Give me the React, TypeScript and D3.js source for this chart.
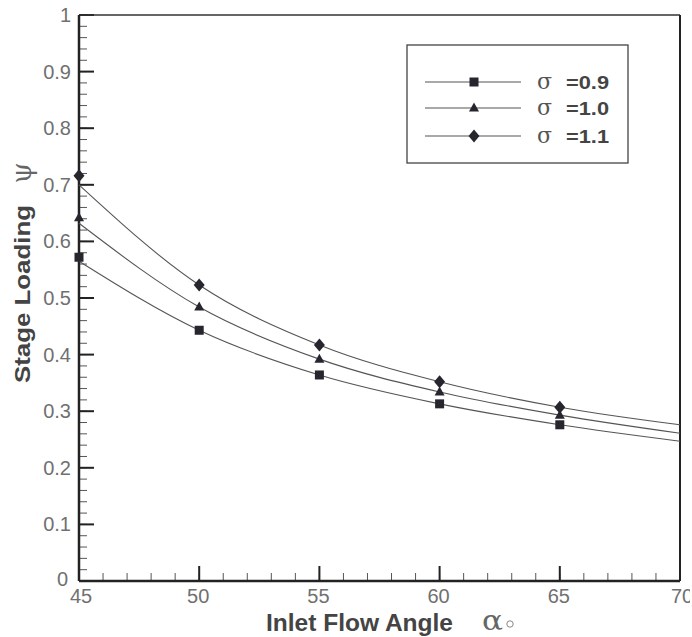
import React from "react";
import * as d3 from "d3";

const angles = [45, 50, 55, 60, 65];
const curveAngles = [45, 50, 55, 60, 65, 70];
const sigma09 = [0.572, 0.443, 0.364, 0.313, 0.276];
const sigma10 = [0.642, 0.484, 0.392, 0.334, 0.293];
const sigma11 = [0.716, 0.523, 0.417, 0.352, 0.307];
const sigma09Curve = [0.565, 0.443, 0.364, 0.313, 0.276, 0.247];
const sigma10Curve = [0.632, 0.484, 0.392, 0.334, 0.293, 0.261];
const sigma11Curve = [0.7, 0.523, 0.417, 0.352, 0.307, 0.276];
const seriesLabels = ["=0.9", "=1.0", "=1.1"];
const xTicks = [45, 50, 55, 60, 65, 70];
const yTicks = [0, 0.1, 0.2, 0.3, 0.4, 0.5, 0.6, 0.7, 0.8, 0.9, 1];

const W = 692;
const H = 637;
const L = 79, R = 680, T = 15, B = 581;

function Marker({ kind, x, y }: { kind: string; x: number; y: number }) {
  const c = "#26262e";
  if (kind === "square") return <rect x={x - 4.5} y={y - 4.5} width={9} height={9} fill={c} />;
  if (kind === "triangle")
    return <path d={`M${x},${y - 5.5}L${x + 5},${y + 3.5}L${x - 5},${y + 3.5}Z`} fill={c} />;
  return <path d={`M${x},${y - 6.5}L${x + 5.5},${y}L${x},${y + 6.5}L${x - 5.5},${y}Z`} fill={c} />;
}

export default function App() {
  const x = d3.scaleLinear().domain([45, 70]).range([L, R]);
  const y = d3.scaleLinear().domain([0, 1]).range([B, T]);
  const line = d3
    .line<number>()
    .x((_, i) => x(curveAngles[i]))
    .y((d) => y(d))
    .curve(d3.curveMonotoneX);
  const series = [
    { kind: "square", pts: sigma09, curve: sigma09Curve },
    { kind: "triangle", pts: sigma10, curve: sigma10Curve },
    { kind: "diamond", pts: sigma11, curve: sigma11Curve },
  ];
  const xMinor = d3.range(45, 70.01, 1);
  const yMinor = d3.range(0, 1.001, 0.02);
  const tickFont = "Liberation Sans, Arial, sans-serif";
  const legendRows = [82, 108, 136];
  return (
    <svg width={W} height={H} style={{ position: "absolute", left: 0, top: 0, background: "#fff" }}>
      <defs>
        <clipPath id="pageClip">
          <rect x={0} y={0} width={690} height={H} />
        </clipPath>
      </defs>
      <rect width={W} height={H} fill="#fff" />
      {/* minor ticks */}
      {yMinor.map((v, i) => (
        <line key={"ym" + i} x1={L} x2={L + 8} y1={y(v)} y2={y(v)} stroke="#555" strokeWidth={1} />
      ))}
      {xMinor.map((v, i) => (
        <line key={"xm" + i} x1={x(v)} x2={x(v)} y1={B} y2={B - 8} stroke="#555" strokeWidth={1} />
      ))}
      {yTicks.map((v) => (
        <line key={"yM" + v} x1={L} x2={L + 15} y1={y(v)} y2={y(v)} stroke="#222" strokeWidth={2} />
      ))}
      {xTicks.map((v) => (
        <line key={"xM" + v} x1={x(v)} x2={x(v)} y1={B} y2={B - 15} stroke="#222" strokeWidth={2} />
      ))}
      {/* frame */}
      <line x1={L} x2={R} y1={T} y2={T} stroke="#333" strokeWidth={1.5} />
      <line x1={R} x2={R} y1={T} y2={B} stroke="#222" strokeWidth={2} />
      <line x1={L} x2={L} y1={T} y2={B} stroke="#222" strokeWidth={2.5} />
      <line x1={L} x2={R} y1={B} y2={B} stroke="#222" strokeWidth={2.5} />
      {/* tick labels */}
      {yTicks.map((v) => (
        <text key={"yl" + v} x={v === 0 ? L - 11 : L - 8} y={y(v) + (v === 0 ? 5 : 7)} textAnchor="end" fontFamily={tickFont} fontSize={20} fill="#707070">
          {d3.format("~g")(v)}
        </text>
      ))}
      <g clipPath="url(#pageClip)">
        {xTicks.map((v) => (
          <text key={"xl" + v} x={v === 45 ? x(v) + 2 : v === 70 ? x(v) + 2 : x(v) - 1} y={603} textAnchor="middle" fontFamily={tickFont} fontSize={20} fill="#707070">
            {v}
          </text>
        ))}
      </g>
      {/* curves */}
      {series.map((s, i) => (
        <path key={"c" + i} d={line(s.curve) || ""} fill="none" stroke="#555" strokeWidth={1.1} />
      ))}
      {series.map((s, i) =>
        s.pts.map((v, j) => <Marker key={"m" + i + "-" + j} kind={s.kind} x={x(angles[j])} y={y(v)} />)
      )}
      {/* legend */}
      <rect x={407} y={45} width={221} height={118} fill="#fff" stroke="#444" strokeWidth={1.3} />
      {series.map((s, i) => (
        <g key={"lg" + i}>
          <line x1={425} x2={521} y1={legendRows[i]} y2={legendRows[i]} stroke="#555" strokeWidth={1.1} />
          <Marker kind={s.kind} x={474} y={legendRows[i]} />
          <text x={537} y={legendRows[i] + 7} fontFamily="DejaVu Serif, serif" fontSize={22} fill="#555">
            σ
          </text>
          <text x={566} y={legendRows[i] + 7} fontFamily={tickFont} fontWeight="bold" fontSize={19} fill="#444" textLength={43} lengthAdjust="spacingAndGlyphs">
            {seriesLabels[i]}
          </text>
        </g>
      ))}
      {/* axis titles */}
      <text x={266} y={631} fontFamily={tickFont} fontWeight="bold" fontSize={24} fill="#444" textLength={187} lengthAdjust="spacingAndGlyphs">
        Inlet Flow Angle
      </text>
      <text x={482} y={630} fontFamily="DejaVu Serif, serif" fontSize={28} fill="#666" textLength={21} lengthAdjust="spacingAndGlyphs">
        α
      </text>
      <circle cx={510} cy={624} r={3.2} fill="none" stroke="#888" strokeWidth={1} />
      <text
        transform={`translate(30,294) rotate(-90)`}
        textAnchor="middle"
        fontFamily={tickFont}
        fontWeight="bold"
        fontSize={22}
        fill="#444"
        textLength={178}
        lengthAdjust="spacingAndGlyphs"
      >
        Stage Loading
      </text>
      <text transform={`translate(31,173) rotate(-90)`} textAnchor="middle" fontFamily="DejaVu Serif, serif" fontSize={27} fill="#666">
        ψ
      </text>
    </svg>
  );
}
